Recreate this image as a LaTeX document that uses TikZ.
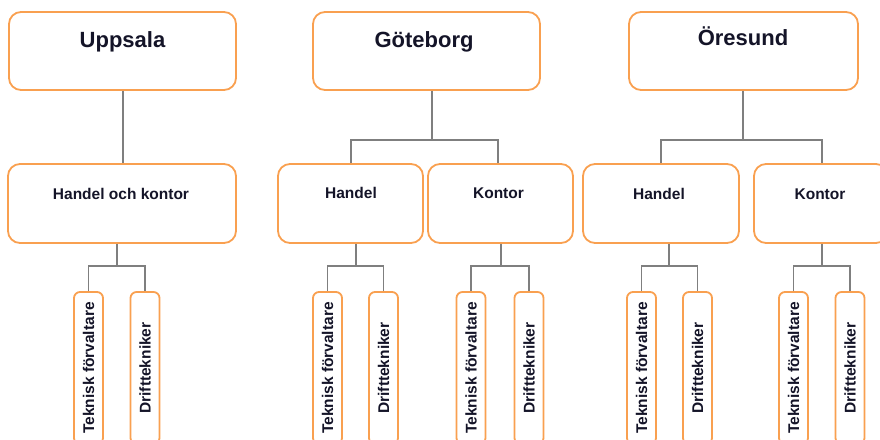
\documentclass[tikz,border=0pt]{standalone}
\usepackage{fontspec}
\setmainfont{Liberation Sans}
\definecolor{boxline}{HTML}{F9A050}
\definecolor{connline}{HTML}{7F7F7F}
\definecolor{txt}{HTML}{141428}
\begin{document}
\begin{tikzpicture}[x=1pt,y=-1pt,
  box/.style={draw=boxline, line width=1.8pt, fill=white, rounded corners=12pt, inner sep=0pt},
  vbox/.style={draw=boxline, line width=1.8pt, fill=white, rounded corners=6pt, inner sep=0pt,
    rotate=90, minimum width=152pt, minimum height=29pt, text=txt,
    font=\fontsize{15.5}{18}\selectfont\bfseries},
  title/.style={anchor=base, text=txt, inner sep=0pt, font=\fontsize{22}{26}\selectfont\bfseries},
  unit/.style={anchor=base, text=txt, inner sep=0pt, font=\fontsize{15.5}{18}\selectfont\bfseries},
  conn/.style={draw=connline, line width=1.8pt}]
\useasboundingbox (0,0) rectangle (880,439);
\clip (0,0) rectangle (880,439);

% top level: the three regions
\node[box, minimum width=227pt, minimum height=78pt] (upp) at (122.5,51) {};
\node[box, minimum width=227pt, minimum height=78pt] (got) at (426.5,51) {};
\node[box, minimum width=229pt, minimum height=78pt] (ore) at (743.5,51) {};
\node[title] (uppt) at (122.5,47) {Uppsala};
\node[title] (gott) at (424,47) {Göteborg};
\node[title] (oret) at (743,45) {Öresund};

% second level: departments
\node[box, minimum width=228pt, minimum height=79pt] (uhk) at (122,203.5) {};
\node[box, minimum width=145pt, minimum height=79pt] (gh) at (350.5,203.5) {};
\node[box, minimum width=145pt, minimum height=79pt] (gk) at (500.5,203.5) {};
\node[box, minimum width=156pt, minimum height=79pt] (oh) at (661,203.5) {};
\node[box, minimum width=134pt, minimum height=79pt] (ok) at (821,203.5) {};
\node[unit] (uhkt) at (121,199) {Handel och kontor};
\node[unit] (ght) at (351,198.5) {Handel};
\node[unit] (gkt) at (498.5,198.5) {Kontor};
\node[unit] (oht) at (659,199) {Handel};
\node[unit] (okt) at (820,199) {Kontor};

% region to department connectors
\coordinate (ux) at (123,0);
\draw[conn] (upp.south -| ux) -- (uhk.north -| ux);
\coordinate (gj) at (432,140);
\draw[conn] (got.south -| gj) -- (gj);
\draw[conn] (gh.north -| 351,0) |- (gj) -| (gk.north -| 498,0);
\coordinate (oj) at (743,140);
\draw[conn] (ore.south -| oj) -- (oj);
\draw[conn] (oh.north) |- (oj) -| (ok.north -| 822,0);

% third level: staff roles (rotated boxes: their east side faces up)
\foreach \nm/\jx/\a/\b in {u/117/88.5/145, gh/356/327.5/383.5, gk/501/471/529,
                            oh/669/641.5/697.5, ok/822/793.5/850}{
  \node[vbox] (\nm tf) at (\a,368) {Teknisk förvaltare};
  \node[vbox] (\nm dt) at (\b,368) {Drifttekniker};
  \coordinate (\nm j) at (\jx,266);
}
\draw[conn] (uhk.south -| uj) -- (uj);
\draw[conn] (utf.east) |- (uj) -| (udt.east);
\draw[conn] (gh.south -| ghj) -- (ghj);
\draw[conn] (ghtf.east) |- (ghj) -| (ghdt.east);
\draw[conn] (gk.south -| gkj) -- (gkj);
\draw[conn] (gktf.east) |- (gkj) -| (gkdt.east);
\draw[conn] (oh.south -| ohj) -- (ohj);
\draw[conn] (ohtf.east) |- (ohj) -| (ohdt.east);
\draw[conn] (ok.south -| okj) -- (okj);
\draw[conn] (oktf.east) |- (okj) -| (okdt.east);
\end{tikzpicture}
\end{document}
